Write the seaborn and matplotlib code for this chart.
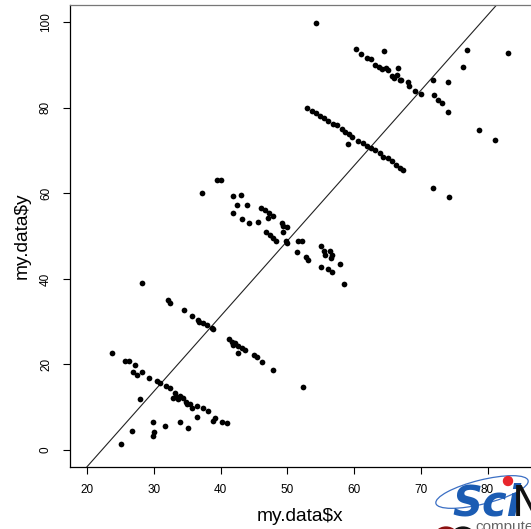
import numpy as np
import pandas as pd
import seaborn as sns
import matplotlib.pyplot as plt
from matplotlib.patches import Circle, Ellipse

# Points, grouped by band (lowest to highest)
band1_x = [23.66, 25.65, 26.30, 27.20, 26.81, 27.41, 28.20, 29.25, 30.40, 30.90,
           31.80, 32.40, 33.15, 32.89, 33.90, 33.64, 34.39, 34.80, 35.40, 35.65,
           36.40, 37.39, 38.14, 36.49, 39.15, 38.89, 40.15, 40.90, 27.90, 29.90,
           31.72, 33.90, 35.10, 26.75, 29.96, 29.81, 25.01, 33.37, 35.02]
band1_y = [22.61, 20.74, 20.74, 19.94, 18.24, 17.54, 18.31, 16.83, 16.20, 15.60,
           14.96, 14.43, 13.26, 12.23, 12.70, 11.92, 12.09, 11.29, 10.69, 9.75,
           10.36, 9.75, 9.12, 7.79, 7.41, 6.71, 6.62, 6.24, 11.92, 6.48,
           5.68, 6.62, 5.03, 4.37, 4.14, 3.27, 1.33, 12.51, 10.76]

band2_x = [28.16, 32.05, 32.44, 34.50, 35.70, 36.64, 36.79, 37.39, 37.99, 38.65,
           38.89, 41.24, 41.65, 41.80, 42.14, 42.64, 43.15, 43.64, 42.64, 45.04,
           45.40, 46.15, 47.89, 52.38]
band2_y = [38.98, 35.07, 34.44, 32.73, 31.40, 30.40, 29.86, 29.62, 29.16, 28.59,
           28.22, 25.88, 25.32, 24.55, 24.95, 24.32, 23.78, 23.38, 22.75, 22.21,
           21.81, 20.65, 18.70, 14.66]

band3_x = [37.15, 39.49, 40.00, 41.80, 43.04, 42.49, 43.94, 41.80, 43.24, 44.20,
           45.55, 46.04, 46.64, 47.29, 47.80, 47.14, 49.15, 49.39, 49.99, 49.39,
           46.79, 47.39, 47.89, 48.29, 49.75, 49.99, 51.54, 52.14, 51.48, 52.83,
           53.06, 55.11, 55.46, 55.64, 56.39, 56.64, 56.54, 55.01, 56.09, 56.72,
           57.93, 58.53]
band3_y = [60.09, 63.06, 63.06, 59.39, 59.62, 57.28, 57.28, 55.48, 54.08, 53.14,
           53.31, 56.51, 56.11, 55.34, 54.71, 54.17, 53.14, 52.37, 52.21, 51.04,
           50.97, 50.27, 49.50, 48.94, 48.87, 48.47, 48.94, 48.80, 46.22, 45.13,
           44.49, 47.63, 46.53, 45.59, 46.41, 45.48, 44.89, 42.79, 42.20, 41.69,
           43.49, 38.81]

band4_x = [52.89, 53.64, 54.24, 54.89, 55.53, 56.13, 57.39, 58.14, 58.64, 59.28,
           59.73, 59.13, 60.63, 61.29, 61.89, 62.53, 63.13, 63.88, 64.38, 65.04,
           65.73, 66.24, 66.88, 67.29, 56.85]
band4_y = [79.89, 79.26, 78.72, 78.09, 77.55, 76.92, 75.99, 74.98, 74.42, 73.81,
           73.25, 71.55, 72.32, 71.71, 71.15, 70.54, 70.14, 69.37, 68.58, 68.20,
           67.64, 66.64, 66.00, 65.47, 76.30]

band5_x = [54.29, 60.28, 60.99, 61.89, 62.49, 64.48, 63.15, 63.78, 64.14, 64.78,
           65.04, 66.63, 65.64, 66.03, 66.48, 66.88, 67.08, 68.13, 68.23, 69.13,
           69.99, 71.87, 74.12, 72.02, 72.53, 73.13, 74.03, 76.37, 76.97, 78.68,
           81.08, 83.07, 71.83, 74.27]
band5_y = [99.91, 93.76, 92.59, 91.72, 91.42, 93.29, 90.02, 89.62, 89.01, 89.38,
           88.85, 89.25, 87.51, 87.05, 87.68, 86.44, 86.51, 86.11, 85.18, 84.01,
           83.24, 86.51, 85.97, 83.00, 81.76, 81.20, 79.10, 89.48, 93.52, 74.75,
           72.55, 92.75, 61.19, 59.15]

# straight line drawn over the points
line_intercept = -39.0
line_slope = 1.758

x_ticks = [20, 30, 40, 50, 60, 70, 80]
y_ticks = [0, 20, 40, 60, 80, 100]

df = pd.DataFrame({
    "x": band1_x + band2_x + band3_x + band4_x + band5_x,
    "y": band1_y + band2_y + band3_y + band4_y + band5_y,
})

sns.set_style("white")
plt.rcParams["font.family"] = ["Liberation Sans", "DejaVu Sans"]
plt.rcParams["text.color"] = "black"
plt.rcParams["axes.labelcolor"] = "black"
plt.rcParams["xtick.color"] = "black"
plt.rcParams["ytick.color"] = "black"

fig = plt.figure(figsize=(5.31, 5.29), dpi=100)
ax = fig.add_axes([70 / 531, 62 / 529, 461 / 531, 462.3 / 529])

sns.scatterplot(data=df, x="x", y="y", ax=ax, color="black", s=17,
                linewidth=0, zorder=3)
ax.axline((0, line_intercept), slope=line_slope, color="#222222", lw=0.8)

ax.set_xlim(17.41, 86.52)
ax.set_ylim(-3.97, 104.1)
ax.set_xticks(x_ticks)
ax.set_yticks(y_ticks)
ax.tick_params(axis="both", direction="out", length=5, width=0.8,
               color="black", labelcolor="black", labelsize=8.5,
               bottom=True, left=True)
ax.tick_params(axis="x", pad=7)
ax.tick_params(axis="y", pad=8)
for lab in ax.get_yticklabels():
    lab.set_rotation(90)
    lab.set_va("center")

for side in ["left", "bottom", "top"]:
    ax.spines[side].set_color("black")
    ax.spines[side].set_linewidth(0.9)
ax.spines["top"].set_color("#777777")
ax.spines["right"].set_visible(False)

ax.set_xlabel("my.data$x", fontsize=13.8, labelpad=9)
ax.set_ylabel("my.data$y", fontsize=13.8, labelpad=7)

# SciNet logo in the lower right corner (figure pixel coords), kept under the axes
W, H = 531, 529
def fx(p):
    return p / W
def fy(p):
    return 1 - p / H

logo = [
    Ellipse((fx(482), fy(492)), 95 / W, 24 / H, angle=14,
            transform=fig.transFigure, fill=False, edgecolor="#3b6fc4", lw=0.9),
    Circle((fx(508), fy(481)), 4.5 / W, transform=fig.transFigure, color="#e8262c"),
    Circle((fx(446), fy(540)), 13 / W, transform=fig.transFigure, color="#8b0f0f"),
    Circle((fx(463), fy(540)), 13 / W, transform=fig.transFigure, color="#111111"),
]
for p in logo:
    p.set_zorder(-1)
    fig.patches.append(p)
fig.text(fx(452), fy(516), "Sci", color="#1b5cb3", fontsize=30,
         fontweight="bold", fontstyle="italic", va="baseline", ha="left",
         family=["DejaVu Sans"], zorder=-1)
fig.text(fx(512), fy(516), "N", color="#111111", fontsize=30,
         va="baseline", ha="left", family=["DejaVu Sans"], zorder=-1)
fig.text(fx(475), fy(531), "compute", color="#666666", fontsize=11,
         va="baseline", ha="left", zorder=-1)

fig.savefig("out.png", dpi=100)
